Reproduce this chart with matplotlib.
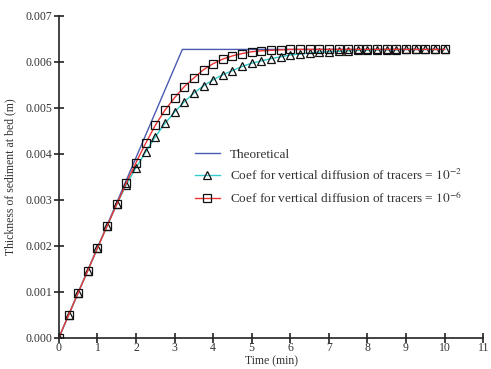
import numpy as np
import matplotlib.pyplot as plt

plt.rcParams['font.family'] = ['Liberation Serif', 'DejaVu Serif']
plt.rcParams['mathtext.fontset'] = 'stix'

# time of output (min)
t = np.arange(0, 10.01, 0.25)

# theoretical thickness: linear growth then plateau
t_theo = [0.0, 3.2, 10.0]
h_theo = [0.0, 0.00627, 0.00627]

# Coef = 1e-2 (triangles), in mm
h_tri = [0.00, 0.49, 0.98, 1.46, 1.95, 2.43, 2.90, 3.33, 3.70, 4.04,
         4.37, 4.66, 4.91, 5.13, 5.32, 5.48, 5.61, 5.72, 5.81, 5.90,
         5.97, 6.02, 6.07, 6.11, 6.15, 6.17, 6.19, 6.21, 6.22, 6.23,
         6.24, 6.25, 6.25, 6.26, 6.26, 6.26, 6.27, 6.27, 6.27, 6.27,
         6.27]

# Coef = 1e-6 (squares), in mm
h_sq = [0.00, 0.49, 0.98, 1.46, 1.95, 2.43, 2.90, 3.37, 3.81, 4.23,
        4.62, 4.95, 5.22, 5.46, 5.65, 5.83, 5.96, 6.06, 6.13, 6.18,
        6.22, 6.24, 6.25, 6.26, 6.27, 6.27, 6.27, 6.27, 6.27, 6.27,
        6.27, 6.27, 6.27, 6.27, 6.27, 6.27, 6.27, 6.27, 6.27, 6.27,
        6.27]

fig = plt.figure(figsize=(4.91, 3.69), dpi=100)
ax = fig.add_axes([0.12, 0.085, 0.864, 0.872])

ax.plot(t_theo, h_theo, color='#4a5bb0', lw=1.0, label='Theoretical')
ax.plot(t, np.array(h_tri) / 1000, color='#33cccc', lw=1.0, marker='^',
        ms=5.3, mfc='none', mec='#111111', mew=0.9,
        label=r'Coef for vertical diffusion of tracers = $10^{-2}$')
ax.plot(t, np.array(h_sq) / 1000, color='#ee3333', lw=1.0, marker='s',
        ms=5.3, mfc='none', mec='#111111', mew=0.9,
        label=r'Coef for vertical diffusion of tracers = $10^{-6}$')

ax.set_xlim(0, 11)
ax.set_ylim(0, 0.007)
ax.set_xticks(range(0, 12))
ax.set_yticks(np.arange(0, 0.0071, 0.001))
ax.yaxis.set_major_formatter(plt.FormatStrFormatter('%.3f'))
for s in ['top', 'right']:
    ax.spines[s].set_visible(False)
for s in ['left', 'bottom']:
    ax.spines[s].set_linewidth(1.2)
    ax.spines[s].set_color('#222222')
ax.tick_params(direction='inout', length=7, width=1.2, colors='#222222',
               labelsize=8.5, labelcolor='#333333', pad=1)
ax.tick_params(axis='x', pad=0)

ax.set_xlabel('Time (min)', fontsize=8.5, color='#333333')
ax.xaxis.set_label_coords(0.5, -0.055)
ax.set_ylabel('Thickness of sediment at bed (m)', fontsize=8.5, color='#333333')
ax.yaxis.set_label_coords(-0.1, 0.5)

ax.legend(loc='upper left', bbox_to_anchor=(0.292, 0.625), frameon=False,
          fontsize=9.5, numpoints=1, handlelength=1.9, labelspacing=0.55,
          labelcolor='#333333')

fig.savefig('out.png', dpi=100)
